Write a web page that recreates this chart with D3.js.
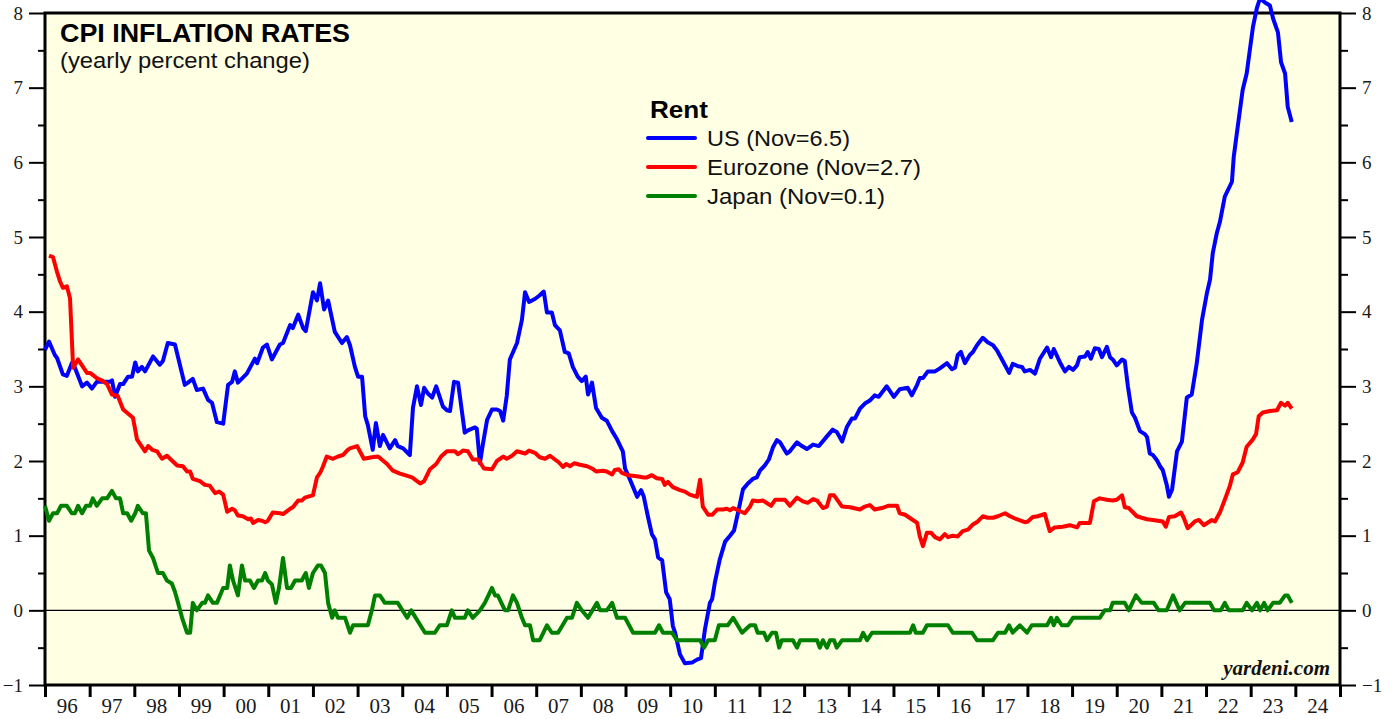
<!DOCTYPE html>
<html><head><meta charset="utf-8">
<script src="https://cdn.jsdelivr.net/npm/d3@7"></script>
<style>
body{margin:0;background:#fff;}
svg{display:block;}
</style></head>
<body>
<svg id="chart" width="1392" height="719"></svg>
<script>
// ---------- DATA ----------
const yearLabels = ["96","97","98","99","00","01","02","03","04","05","06","07","08","09","10","11","12","13","14","15","16","17","18","19","20","21","22","23","24"];
const yTicks = [-1,0,1,2,3,4,5,6,7,8];
const legendTitle = "Rent";
const seriesNames = ["US (Nov=6.5)","Eurozone (Nov=2.7)","Japan (Nov=0.1)"];
const seriesColors = ["#0000ff","#ff0000","#008000"];

const usDates = [1996.00,1996.09,1996.22,1996.27,1996.40,1996.49,1996.60,1996.67,1996.83,1996.94,1997.05,1997.16,1997.45,1997.50,1997.57,1997.68,1997.75,1997.86,1997.95,1998.02,1998.08,1998.17,1998.24,1998.42,1998.57,1998.64,1998.75,1998.91,1999.13,1999.20,1999.31,1999.40,1999.54,1999.65,1999.74,1999.85,1999.99,2000.10,2000.19,2000.25,2000.32,2000.52,2000.70,2000.75,2000.88,2000.97,2001.08,2001.26,2001.33,2001.49,2001.55,2001.67,2001.78,2001.84,2002.00,2002.09,2002.16,2002.25,2002.34,2002.49,2002.65,2002.76,2002.83,2002.94,2003.01,2003.10,2003.17,2003.23,2003.34,2003.41,2003.50,2003.57,2003.72,2003.84,2003.90,2004.02,2004.17,2004.24,2004.33,2004.42,2004.49,2004.58,2004.67,2004.76,2004.91,2005.00,2005.07,2005.16,2005.25,2005.40,2005.47,2005.63,2005.67,2005.74,2005.81,2005.90,2006.01,2006.12,2006.19,2006.26,2006.34,2006.41,2006.57,2006.68,2006.75,2006.84,2006.97,2007.08,2007.17,2007.24,2007.35,2007.42,2007.53,2007.64,2007.73,2007.82,2007.93,2008.02,2008.11,2008.16,2008.25,2008.34,2008.47,2008.58,2008.70,2008.81,2008.94,2008.99,2009.10,2009.26,2009.35,2009.41,2009.50,2009.59,2009.66,2009.73,2009.82,2009.91,2009.99,2010.06,2010.11,2010.22,2010.33,2010.49,2010.60,2010.69,2010.78,2010.89,2010.94,2011.00,2011.11,2011.23,2011.34,2011.43,2011.52,2011.63,2011.74,2011.85,2011.94,2012.01,2012.12,2012.21,2012.30,2012.39,2012.46,2012.61,2012.68,2012.84,2012.95,2013.06,2013.20,2013.33,2013.51,2013.64,2013.73,2013.85,2013.96,2014.07,2014.14,2014.25,2014.36,2014.47,2014.58,2014.67,2014.85,2015.01,2015.14,2015.32,2015.41,2015.53,2015.59,2015.66,2015.77,2015.93,2016.04,2016.20,2016.31,2016.38,2016.44,2016.51,2016.60,2016.71,2016.78,2016.87,2017.00,2017.11,2017.23,2017.32,2017.43,2017.59,2017.67,2017.79,2017.88,2017.94,2018.06,2018.17,2018.28,2018.44,2018.53,2018.59,2018.73,2018.84,2018.93,2019.02,2019.11,2019.17,2019.29,2019.35,2019.42,2019.51,2019.60,2019.67,2019.78,2019.85,2019.91,2020.00,2020.12,2020.18,2020.25,2020.34,2020.41,2020.52,2020.63,2020.68,2020.74,2020.81,2020.90,2020.97,2021.03,2021.12,2021.17,2021.24,2021.35,2021.46,2021.57,2021.68,2021.79,2021.91,2022.02,2022.09,2022.15,2022.24,2022.31,2022.42,2022.58,2022.62,2022.69,2022.76,2022.82,2022.91,2022.98,2023.05,2023.14,2023.21,2023.32,2023.43,2023.50,2023.61,2023.68,2023.77,2023.83,2023.92];
const usValues = [3.49,3.60,3.42,3.38,3.16,3.14,3.31,3.25,3.00,3.05,2.97,3.06,3.06,3.08,2.86,3.03,3.03,3.13,3.13,3.32,3.20,3.26,3.20,3.40,3.29,3.34,3.58,3.56,3.02,3.05,3.10,2.95,2.97,2.82,2.78,2.52,2.50,3.02,3.06,3.20,3.05,3.17,3.37,3.31,3.52,3.56,3.36,3.56,3.58,3.82,3.78,3.96,3.78,3.74,4.26,4.15,4.38,4.03,4.15,3.73,3.58,3.66,3.55,3.26,3.13,3.13,2.60,2.48,2.15,2.51,2.20,2.35,2.17,2.28,2.20,2.17,2.08,2.71,3.00,2.75,2.98,2.90,2.85,3.00,2.73,2.68,2.67,3.06,3.05,2.38,2.41,2.45,2.43,1.97,2.24,2.55,2.69,2.69,2.67,2.54,2.87,3.36,3.58,3.89,4.26,4.13,4.17,4.22,4.27,3.99,3.99,3.82,3.75,3.46,3.44,3.26,3.13,3.07,3.13,2.89,3.05,2.71,2.58,2.54,2.40,2.29,2.13,1.90,1.75,1.52,1.61,1.52,1.26,1.02,0.95,0.71,0.67,0.24,0.15,-0.21,-0.30,-0.59,-0.71,-0.70,-0.66,-0.64,-0.25,0.10,0.15,0.37,0.68,0.92,1.00,1.07,1.31,1.62,1.70,1.76,1.78,1.87,1.94,2.02,2.18,2.28,2.25,2.10,2.13,2.25,2.20,2.16,2.22,2.20,2.33,2.42,2.39,2.26,2.46,2.57,2.57,2.70,2.77,2.81,2.88,2.86,3.00,2.86,2.96,2.98,2.88,3.02,3.11,3.11,3.20,3.20,3.24,3.31,3.23,3.25,3.42,3.46,3.31,3.42,3.46,3.55,3.65,3.59,3.55,3.48,3.36,3.18,3.30,3.27,3.26,3.20,3.22,3.17,3.37,3.52,3.39,3.50,3.32,3.20,3.26,3.22,3.28,3.39,3.40,3.46,3.37,3.51,3.50,3.39,3.53,3.39,3.36,3.28,3.36,3.34,3.00,2.65,2.58,2.40,2.36,2.32,2.10,2.08,2.01,1.93,1.88,1.68,1.52,1.62,2.13,2.26,2.85,2.89,3.30,3.89,4.25,4.43,4.78,5.05,5.20,5.54,5.74,6.07,6.39,6.70,6.97,7.19,7.50,7.81,8.07,8.20,8.14,8.10,7.93,7.74,7.34,7.19,6.74,6.54];

const euDates = [1996.09,1996.18,1996.27,1996.34,1996.40,1996.49,1996.56,1996.63,1996.67,1996.74,1996.94,1997.01,1997.16,1997.30,1997.39,1997.50,1997.63,1997.75,1997.97,1998.06,1998.24,1998.31,1998.40,1998.51,1998.62,1998.73,1998.96,1999.09,1999.18,1999.25,1999.31,1999.47,1999.58,1999.69,1999.81,1999.90,1999.99,2000.08,2000.19,2000.25,2000.32,2000.43,2000.55,2000.61,2000.66,2000.77,2000.86,2000.93,2000.99,2001.10,2001.26,2001.33,2001.49,2001.55,2001.67,2001.75,2001.82,2001.93,2002.00,2002.09,2002.16,2002.22,2002.31,2002.45,2002.56,2002.67,2002.78,2002.83,2002.99,2003.14,2003.32,2003.46,2003.66,2003.79,2003.95,2004.06,2004.22,2004.40,2004.49,2004.62,2004.76,2004.87,2005.00,2005.18,2005.25,2005.36,2005.47,2005.58,2005.70,2005.83,2006.01,2006.12,2006.26,2006.34,2006.46,2006.57,2006.75,2006.84,2006.97,2007.08,2007.20,2007.31,2007.42,2007.51,2007.60,2007.67,2007.76,2007.85,2007.98,2008.14,2008.25,2008.34,2008.49,2008.58,2008.70,2008.76,2008.85,2008.92,2009.05,2009.21,2009.32,2009.41,2009.48,2009.59,2009.70,2009.82,2009.88,2009.95,2010.06,2010.22,2010.33,2010.44,2010.60,2010.67,2010.73,2010.85,2010.94,2011.05,2011.18,2011.27,2011.34,2011.41,2011.52,2011.67,2011.79,2011.85,2011.96,2012.08,2012.26,2012.35,2012.57,2012.68,2012.84,2012.97,2013.08,2013.20,2013.29,2013.42,2013.51,2013.58,2013.67,2013.85,2014.03,2014.25,2014.36,2014.47,2014.58,2014.74,2014.88,2015.08,2015.14,2015.26,2015.41,2015.53,2015.59,2015.66,2015.75,2015.84,2015.93,2016.04,2016.15,2016.22,2016.33,2016.44,2016.55,2016.67,2016.78,2016.89,2017.00,2017.11,2017.23,2017.34,2017.50,2017.61,2017.76,2017.94,2018.01,2018.12,2018.23,2018.39,2018.50,2018.61,2018.79,2018.95,2019.11,2019.17,2019.40,2019.49,2019.62,2019.78,2019.91,2020.00,2020.12,2020.18,2020.27,2020.45,2020.56,2020.68,2020.81,2021.03,2021.10,2021.17,2021.30,2021.44,2021.50,2021.59,2021.75,2021.84,2021.95,2022.13,2022.20,2022.31,2022.42,2022.53,2022.60,2022.71,2022.82,2022.91,2023.05,2023.12,2023.18,2023.27,2023.43,2023.59,2023.68,2023.77,2023.83,2023.92];
const euValues = [4.75,4.73,4.53,4.40,4.32,4.34,4.18,3.25,3.29,3.36,3.18,3.18,3.11,3.07,3.03,2.89,2.87,2.69,2.58,2.29,2.13,2.20,2.15,2.13,2.03,2.07,1.94,1.93,1.86,1.86,1.76,1.73,1.68,1.67,1.57,1.59,1.55,1.32,1.36,1.34,1.27,1.26,1.22,1.23,1.17,1.21,1.20,1.18,1.20,1.31,1.30,1.29,1.36,1.38,1.47,1.47,1.51,1.53,1.54,1.78,1.84,1.92,2.06,2.03,2.06,2.08,2.15,2.17,2.20,2.03,2.05,2.06,1.96,1.87,1.83,1.81,1.78,1.70,1.73,1.89,1.96,2.06,2.13,2.13,2.09,2.14,2.13,2.02,2.02,1.90,1.89,2.00,2.06,2.03,2.07,2.13,2.10,2.14,2.11,2.05,2.03,2.07,2.02,1.98,1.92,1.96,1.93,1.97,1.95,1.93,1.90,1.86,1.87,1.86,1.82,1.88,1.89,1.84,1.81,1.80,1.79,1.78,1.78,1.81,1.77,1.76,1.68,1.72,1.65,1.61,1.59,1.55,1.52,1.75,1.39,1.28,1.28,1.35,1.35,1.36,1.34,1.37,1.34,1.30,1.39,1.47,1.46,1.47,1.40,1.48,1.48,1.40,1.51,1.46,1.44,1.49,1.47,1.37,1.39,1.54,1.54,1.39,1.38,1.35,1.39,1.41,1.35,1.37,1.40,1.40,1.30,1.28,1.22,1.17,0.99,0.86,1.04,1.04,0.98,0.95,1.02,0.98,1.00,0.99,1.06,1.08,1.15,1.19,1.26,1.24,1.24,1.26,1.30,1.26,1.22,1.18,1.19,1.25,1.26,1.29,1.06,1.11,1.12,1.14,1.11,1.17,1.17,1.46,1.50,1.48,1.47,1.48,1.54,1.38,1.37,1.26,1.24,1.22,1.21,1.19,1.12,1.25,1.26,1.31,1.24,1.10,1.19,1.21,1.14,1.21,1.19,1.31,1.48,1.66,1.82,1.85,1.98,2.19,2.29,2.36,2.60,2.65,2.67,2.68,2.78,2.74,2.78,2.70];

const jpDates = [1996.00,1996.09,1996.18,1996.27,1996.36,1996.49,1996.60,1996.67,1996.74,1996.83,1996.92,1997.01,1997.07,1997.16,1997.28,1997.39,1997.50,1997.59,1997.68,1997.75,1997.84,1997.93,1998.02,1998.08,1998.19,1998.26,1998.33,1998.42,1998.53,1998.64,1998.73,1998.84,1998.91,1998.98,1999.07,1999.18,1999.25,1999.31,1999.40,1999.52,1999.58,1999.65,1999.76,1999.85,1999.99,2000.08,2000.14,2000.21,2000.32,2000.41,2000.48,2000.59,2000.68,2000.77,2000.86,2000.93,2000.99,2001.08,2001.17,2001.24,2001.33,2001.42,2001.51,2001.60,2001.75,2001.84,2001.91,2002.00,2002.11,2002.18,2002.27,2002.34,2002.43,2002.49,2002.56,2002.72,2002.83,2002.90,2003.23,2003.32,2003.39,2003.50,2003.61,2003.90,2004.11,2004.20,2004.51,2004.73,2004.84,2005.00,2005.11,2005.18,2005.40,2005.47,2005.58,2005.74,2005.85,2006.01,2006.08,2006.14,2006.30,2006.37,2006.48,2006.57,2006.68,2006.75,2006.86,2006.93,2007.08,2007.24,2007.35,2007.49,2007.69,2007.80,2007.91,2008.02,2008.16,2008.36,2008.43,2008.58,2008.70,2008.81,2008.99,2009.17,2009.66,2009.75,2009.84,2010.04,2010.15,2010.67,2010.76,2010.85,2011.00,2011.09,2011.29,2011.41,2011.61,2011.79,2011.90,2011.96,2012.10,2012.17,2012.28,2012.37,2012.44,2012.50,2012.75,2012.84,2012.91,2013.29,2013.35,2013.42,2013.51,2013.58,2013.67,2013.73,2013.85,2014.25,2014.32,2014.41,2014.52,2015.37,2015.44,2015.50,2015.66,2015.75,2016.22,2016.33,2016.76,2016.87,2017.23,2017.34,2017.50,2017.59,2017.67,2017.83,2017.99,2018.10,2018.44,2018.53,2018.59,2018.66,2018.77,2018.91,2019.02,2019.62,2019.73,2019.85,2019.91,2020.18,2020.27,2020.43,2020.56,2020.83,2020.94,2021.12,2021.26,2021.41,2021.53,2022.09,2022.18,2022.33,2022.42,2022.51,2022.82,2022.91,2023.03,2023.14,2023.21,2023.30,2023.38,2023.50,2023.65,2023.77,2023.83,2023.92];
const jpValues = [1.4,1.2,1.3,1.3,1.4,1.4,1.3,1.3,1.4,1.3,1.4,1.4,1.5,1.4,1.5,1.5,1.6,1.5,1.5,1.3,1.3,1.2,1.3,1.4,1.3,1.3,0.8,0.7,0.5,0.5,0.4,0.36,0.25,0.1,-0.1,-0.3,-0.3,0.1,0.0,0.1,0.1,0.2,0.1,0.1,0.3,0.3,0.6,0.4,0.2,0.6,0.4,0.4,0.3,0.4,0.4,0.5,0.4,0.35,0.1,0.3,0.7,0.3,0.3,0.4,0.4,0.5,0.3,0.5,0.6,0.6,0.5,0.1,-0.1,0.0,-0.1,-0.1,-0.3,-0.2,-0.2,0.0,0.2,0.2,0.1,0.1,-0.1,0.0,-0.3,-0.3,-0.2,-0.2,0.0,-0.1,-0.1,0.0,-0.1,0.0,0.1,0.3,0.2,0.2,0.0,0.0,0.2,0.1,-0.1,-0.2,-0.2,-0.4,-0.4,-0.2,-0.3,-0.3,-0.1,-0.1,0.1,0.0,-0.1,0.1,0.0,0.0,0.1,-0.1,-0.1,-0.3,-0.3,-0.2,-0.3,-0.3,-0.4,-0.4,-0.5,-0.4,-0.4,-0.2,-0.2,-0.1,-0.3,-0.2,-0.2,-0.3,-0.3,-0.4,-0.3,-0.3,-0.5,-0.4,-0.4,-0.5,-0.4,-0.4,-0.5,-0.4,-0.5,-0.4,-0.4,-0.5,-0.4,-0.4,-0.3,-0.4,-0.3,-0.3,-0.2,-0.3,-0.3,-0.2,-0.2,-0.3,-0.3,-0.4,-0.4,-0.3,-0.3,-0.2,-0.3,-0.2,-0.3,-0.2,-0.2,-0.1,-0.2,-0.1,-0.2,-0.2,-0.1,-0.1,0.0,0.0,0.1,0.1,0.0,0.2,0.1,0.1,0.0,0.0,0.2,0.0,0.1,0.1,0.0,0.0,0.1,0.0,0.0,0.1,0.0,0.1,0.0,0.1,0.0,0.1,0.1,0.2,0.2,0.1];

// ---------- LAYOUT ----------
const svg = d3.select("#chart");
const L = 45, R = 1340, T = 13, B = 685;
const x = d3.scaleLinear().domain([1996, 2025]).range([L, R]);
const y = d3.scaleLinear().domain([-1, 8]).range([B, T]);

svg.append("rect").attr("x", L).attr("y", T).attr("width", R - L).attr("height", B - T)
  .attr("fill", "#ffffe3");

// zero line
svg.append("line").attr("x1", L).attr("x2", R).attr("y1", y(0)).attr("y2", y(0))
  .attr("stroke", "#000").attr("stroke-width", 1.3);

// axes
const serif = "'Liberation Serif','Times New Roman',serif";
const sans = "'Liberation Sans',Arial,Helvetica,sans-serif";
const minorVals = d3.range(-0.5, 8, 1);

function styleAxis(g, w) {
  g.select(".domain").remove();
  g.selectAll(".tick line").attr("stroke", "#000").attr("stroke-width", w);
  g.selectAll(".tick text").attr("fill", "#1a1a1a").style("font-family", serif);
}
const gl = svg.append("g").attr("transform", `translate(${L},0)`)
  .call(d3.axisLeft(y).tickValues(yTicks).tickSize(16).tickPadding(6).tickFormat(d3.format("d")));
styleAxis(gl, 2); gl.selectAll(".tick text").style("font-size", "19px");
const glm = svg.append("g").attr("transform", `translate(${L},0)`)
  .call(d3.axisLeft(y).tickValues(minorVals).tickSize(7).tickFormat(""));
styleAxis(glm, 2);
const gr = svg.append("g").attr("transform", `translate(${R},0)`)
  .call(d3.axisRight(y).tickValues(yTicks).tickSize(16).tickPadding(6).tickFormat(d3.format("d")));
styleAxis(gr, 2); gr.selectAll(".tick text").style("font-size", "19px");
const grm = svg.append("g").attr("transform", `translate(${R},0)`)
  .call(d3.axisRight(y).tickValues(minorVals).tickSize(8).tickFormat(""));
styleAxis(grm, 2);

const years = d3.range(1996, 2026);
const gb = svg.append("g").attr("transform", `translate(0,${B})`)
  .call(d3.axisBottom(x).tickValues(years).tickSize(12).tickFormat(""));
styleAxis(gb, 3);
svg.append("g").selectAll("text").data(yearLabels).join("text")
  .attr("x", (d, i) => x(1996 + i + 0.5)).attr("y", 713)
  .attr("text-anchor", "middle").style("font-family", serif).style("font-size", "21px")
  .attr("fill", "#1a1a1a").text(d => d);

// frame
svg.append("rect").attr("x", L).attr("y", T).attr("width", R - L).attr("height", B - T)
  .attr("fill", "none").attr("stroke", "#000").attr("stroke-width", 3);

// titles
svg.append("text").attr("x", 60).attr("y", 42).style("font-family", sans)
  .style("font-weight", "bold").style("font-size", "25px").attr("fill", "#000")
  .attr("textLength", 290).attr("lengthAdjust", "spacingAndGlyphs")
  .text("CPI INFLATION RATES");
svg.append("text").attr("x", 60).attr("y", 68).style("font-family", sans)
  .style("font-size", "22px").attr("fill", "#111")
  .attr("textLength", 250).attr("lengthAdjust", "spacingAndGlyphs")
  .text("(yearly percent change)");

// lines
const series = [
  {d: usDates, v: usValues},
  {d: euDates, v: euValues},
  {d: jpDates, v: jpValues}
];
const line = d3.line().x(p => x(p[0])).y(p => y(p[1]));
series.forEach((s, i) => {
  const pts = s.d.map((t, k) => [t, s.v[k]]);
  svg.append("path").datum(pts).attr("d", line).attr("fill", "none")
    .attr("stroke", seriesColors[i]).attr("stroke-width", 4)
    .attr("stroke-linejoin", "round").attr("stroke-linecap", "butt");
});

// legend
const legendLens = [143, 214, 178];
const lg = svg.append("g");
lg.append("text").attr("x", 650).attr("y", 118).style("font-family", sans)
  .style("font-weight", "bold").style("font-size", "23px").attr("fill", "#000")
  .attr("textLength", 58).attr("lengthAdjust", "spacingAndGlyphs").text(legendTitle);
seriesNames.forEach((n, i) => {
  const yy = 138 + i * 29;
  lg.append("line").attr("x1", 648).attr("x2", 695).attr("y1", yy).attr("y2", yy)
    .attr("stroke", seriesColors[i]).attr("stroke-width", 4).attr("stroke-linecap", "round");
  lg.append("text").attr("x", 707).attr("y", yy + 8).style("font-family", sans)
    .style("font-size", "22px").attr("fill", "#111")
    .attr("textLength", legendLens[i]).attr("lengthAdjust", "spacingAndGlyphs").text(n);
});

// source
svg.append("text").attr("x", 1330).attr("y", 675).attr("text-anchor", "end")
  .style("font-family", serif).style("font-weight", "bold").style("font-style", "italic")
  .style("font-size", "21px").attr("fill", "#111").text("yardeni.com");
</script>
</body></html>
